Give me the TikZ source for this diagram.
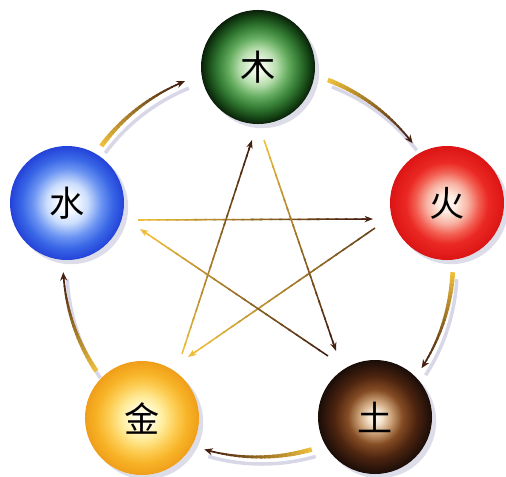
\documentclass[tikz,border=0pt]{standalone}
\usepackage{fontspec}
\newfontfamily\cjk{Noto Sans CJK SC}
\usetikzlibrary{arrows.meta,calc,shadows}

\definecolor{gold}{RGB}{236,190,60}
\definecolor{darkbrown}{RGB}{70,32,16}

% radial shadings of the five balls (25bp = rim of the ball)
\pgfdeclareradialshading{woodball}{\pgfpoint{0bp}{0bp}}{rgb(0bp)=(0.96,0.99,0.94); rgb(3bp)=(0.92,0.97,0.90); rgb(8bp)=(0.72,0.87,0.68); rgb(13bp)=(0.40,0.68,0.38); rgb(18bp)=(0.20,0.48,0.20); rgb(22.5bp)=(0.08,0.26,0.08); rgb(25bp)=(0.04,0.12,0.04); rgb(50bp)=(0.04,0.12,0.04)}
\pgfdeclareradialshading{fireball}{\pgfpoint{0bp}{0bp}}{rgb(0bp)=(1,0.97,0.95); rgb(4bp)=(1,0.92,0.88); rgb(9bp)=(0.97,0.70,0.64); rgb(14bp)=(0.95,0.36,0.31); rgb(18bp)=(0.92,0.16,0.14); rgb(25bp)=(0.86,0.08,0.08); rgb(50bp)=(0.86,0.08,0.08)}
\pgfdeclareradialshading{earthball}{\pgfpoint{0bp}{0bp}}{rgb(0bp)=(1,0.97,0.92); rgb(3bp)=(0.96,0.90,0.82); rgb(7bp)=(0.80,0.64,0.48); rgb(12bp)=(0.52,0.30,0.14); rgb(18bp)=(0.30,0.14,0.06); rgb(25bp)=(0.10,0.05,0.03); rgb(50bp)=(0.10,0.05,0.03)}
\pgfdeclareradialshading{metalball}{\pgfpoint{0bp}{0bp}}{rgb(0bp)=(1,1,0.95); rgb(4bp)=(1,0.99,0.88); rgb(9bp)=(1,0.93,0.62); rgb(15bp)=(0.99,0.80,0.32); rgb(20bp)=(0.97,0.70,0.15); rgb(25bp)=(0.94,0.62,0.10); rgb(50bp)=(0.94,0.62,0.10)}
\pgfdeclareradialshading{waterball}{\pgfpoint{0bp}{0bp}}{rgb(0bp)=(1,1,1); rgb(4bp)=(0.96,0.98,1); rgb(9bp)=(0.80,0.87,0.99); rgb(15bp)=(0.42,0.58,0.95); rgb(20bp)=(0.22,0.40,0.90); rgb(25bp)=(0.14,0.26,0.85); rgb(50bp)=(0.14,0.26,0.85)}

\tikzset{
  ball/.style={circle, minimum size=2.85cm, inner sep=0pt,
    font=\cjk\fontsize{25}{25}\selectfont,
    drop shadow={shadow xshift=3pt, shadow yshift=-3pt, opacity=0.22, fill=blue!20!gray}},
  arcshadow/.style={line width=2.5pt, blue!25!gray, opacity=0.25}
}

% straight arrow, colour running from tail to head
\newcommand{\gradline}[4]{%
  \foreach \i in {0,...,23}{
    \pgfmathtruncatemacro{\pc}{100-\i*100/23}
    \draw[line width=1.1pt, color=#3!\pc!#4] ($(#1)!\i/25!(#2)$) -- ($(#1)!{(\i+1.3)/25}!(#2)$);
  }
  \draw[-{Stealth[length=6pt,width=4.5pt]}, line width=1.1pt, #4] ($(#1)!0.95!(#2)$) -- (#2);
}

% outer arc arrow, from angle #1 to angle #2 round (ctr)
\newcommand{\gradarc}[2]{%
  \draw[arcshadow] ($(ctr)+(4,-7)+(#1:195)$) arc[start angle=#1, end angle=#2, radius=195];
  \foreach \i in {0,...,23}{
    \pgfmathsetmacro{\aa}{#1+(#2-#1)*0.94*\i/24}
    \pgfmathsetmacro{\ab}{#1+(#2-#1)*0.94*(\i+1.3)/24}
    \pgfmathtruncatemacro{\pc}{100-\i*100/23}
    \pgfmathsetmacro{\lw}{3.3-2.2*\i/23}
    \draw[line width=\lw pt, color=gold!\pc!darkbrown] ($(ctr)+(\aa:195)$) arc[start angle=\aa, end angle=\ab, radius=195];
  }
  \pgfmathsetmacro{\ac}{#1+(#2-#1)*0.92}
  \draw[-{Stealth[length=6pt,width=5pt]}, line width=1pt, darkbrown] ($(ctr)+(\ac:195)$) arc[start angle=\ac, end angle=#2, radius=195];
}

\begin{document}
\begin{tikzpicture}[x=0.025cm, y=0.025cm]

\useasboundingbox (0,0) rectangle (506,476);

%centre of the cycle
\coordinate (ctr) at (258,214);

%Outer cycle
\gradarc{69}{37.5}
\gradarc{-3}{-33}
\gradarc{-74}{-106}
\gradarc{-146}{-177}
\gradarc{143.5}{112}

%Star points
\coordinate (wf1) at (138,256);  \coordinate (wf2) at (373,257);
\coordinate (fm1) at (375,248);  \coordinate (fm2) at (188,119);
\coordinate (mw1) at (182,122);  \coordinate (mw2) at (252,336);
\coordinate (we1) at (264,336);  \coordinate (we2) at (336,125);
\coordinate (ew1) at (328,120);  \coordinate (ew2) at (140,247);

%Star
\gradline{wf1}{wf2}{gold}{darkbrown}
\gradline{fm1}{fm2}{darkbrown!80!gold}{gold}
\gradline{mw1}{mw2}{gold}{darkbrown}
\gradline{we1}{we2}{gold}{darkbrown}
\gradline{ew1}{ew2}{darkbrown}{gold}

%Balls
\node[ball, shading=woodball]  (mu)   at (258,409) {木};
\node[ball, shading=fireball]  (huo)  at (447,273) {火};
\node[ball, shading=earthball] (tu)   at (375,59)  {土};
\node[ball, shading=metalball] (jin)  at (142,58)  {金};
\node[ball, shading=waterball] (shui) at (67,273)  {水};

\end{tikzpicture}
\end{document}
